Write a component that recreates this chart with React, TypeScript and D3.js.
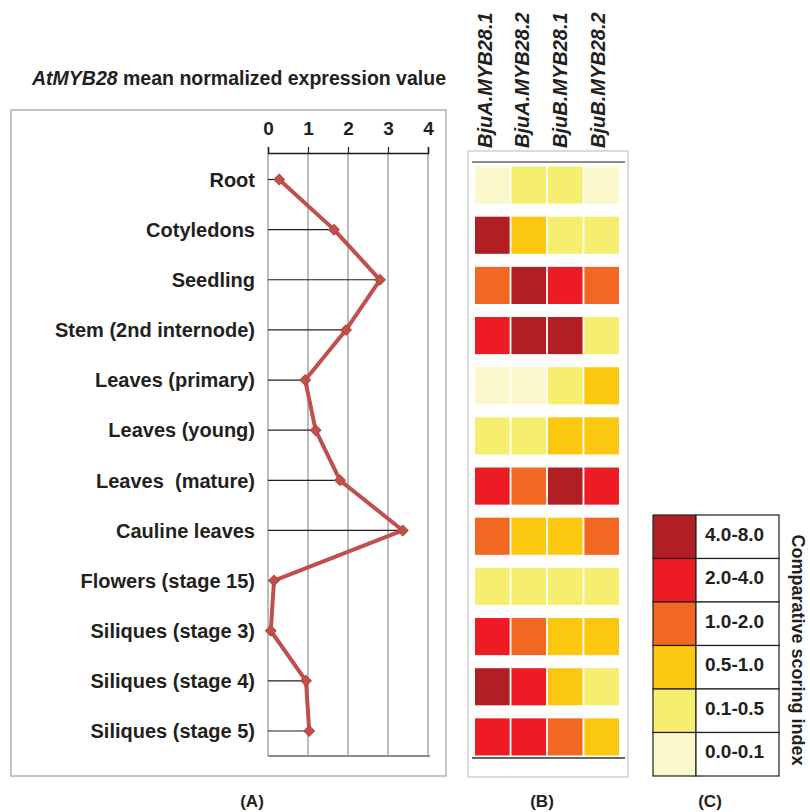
import React, { useRef, useEffect } from "react";
import * as d3 from "d3";

// tissues (panel A rows / panel B rows)
const tissues = [
  "Root",
  "Cotyledons",
  "Seedling",
  "Stem (2nd internode)",
  "Leaves (primary)",
  "Leaves (young)",
  "Leaves  (mature)",
  "Cauline leaves",
  "Flowers (stage 15)",
  "Siliques (stage 3)",
  "Siliques (stage 4)",
  "Siliques (stage 5)",
];

// AtMYB28 mean normalized expression
const atmyb28 = [0.28, 1.65, 2.8, 1.95, 0.93, 1.19, 1.8, 3.37, 0.15, 0.07, 0.95, 1.03];
const xTicks = [0, 1, 2, 3, 4];

const genes = ["BjuA.MYB28.1", "BjuA.MYB28.2", "BjuB.MYB28.1", "BjuB.MYB28.2"];

// legend classes, high to low
const classes = ["4.0-8.0", "2.0-4.0", "1.0-2.0", "0.5-1.0", "0.1-0.5", "0.0-0.1"];
const classColors = ["#b11f24", "#ed1c24", "#f26722", "#fcc80f", "#f6ee6e", "#fbf8cb"];

// comparative scoring class per gene, one entry per tissue
const bjuA1 = ["0.0-0.1", "4.0-8.0", "1.0-2.0", "2.0-4.0", "0.0-0.1", "0.1-0.5", "2.0-4.0", "1.0-2.0", "0.1-0.5", "2.0-4.0", "4.0-8.0", "2.0-4.0"];
const bjuA2 = ["0.1-0.5", "0.5-1.0", "4.0-8.0", "4.0-8.0", "0.0-0.1", "0.1-0.5", "1.0-2.0", "0.5-1.0", "0.1-0.5", "1.0-2.0", "2.0-4.0", "2.0-4.0"];
const bjuB1 = ["0.1-0.5", "0.1-0.5", "2.0-4.0", "4.0-8.0", "0.1-0.5", "0.5-1.0", "4.0-8.0", "0.5-1.0", "0.1-0.5", "0.5-1.0", "0.5-1.0", "1.0-2.0"];
const bjuB2 = ["0.0-0.1", "0.1-0.5", "1.0-2.0", "0.1-0.5", "0.5-1.0", "0.5-1.0", "2.0-4.0", "1.0-2.0", "0.1-0.5", "0.5-1.0", "0.1-0.5", "0.5-1.0"];
const geneScores = [bjuA1, bjuA2, bjuB1, bjuB2];

const FONT = "'Liberation Sans', Arial, sans-serif";
const INK = "#231f20";

export default function App() {
  const svgRef = useRef<SVGSVGElement>(null);

  useEffect(() => {
    const svg = d3.select(svgRef.current);
    svg.selectAll("*").remove();
    svg.attr("font-family", FONT).attr("font-weight", "bold");

    // ---------- panel A ----------
    const x = d3.scaleLinear().domain([0, 4]).range([268, 428]);
    const y = d3.scalePoint<string>().domain(tissues).range([179.5, 731]);

    const title = svg.append("text").attr("x", 239).attr("y", 85).attr("text-anchor", "middle").attr("font-size", 19.5).attr("fill", INK);
    title.append("tspan").attr("font-style", "italic").text("AtMYB28");
    title.append("tspan").text(" mean normalized expression value");

    svg.append("rect").attr("x", 11).attr("y", 110).attr("width", 435).attr("height", 666)
      .attr("fill", "white").attr("stroke", "#b3b3b3").attr("stroke-width", 1.5);

    const g = svg.append("g");
    g.selectAll(".grid").data(xTicks).enter().append("line")
      .attr("x1", (d) => x(d)).attr("x2", (d) => x(d))
      .attr("y1", 153).attr("y2", 756)
      .attr("stroke", "#a6a6a6").attr("stroke-width", 1.5);

    g.append("line").attr("x1", x(0)).attr("x2", x(4) + 2).attr("y1", 756).attr("y2", 756)
      .attr("stroke", "#8c8c8c").attr("stroke-width", 2);

    const axis = g.append("g").attr("transform", "translate(0,153)")
      .call(d3.axisTop(x).tickValues(xTicks).tickSize(6).tickFormat(d3.format("d")));
    axis.select(".domain").attr("stroke", INK).attr("stroke-width", 1.5);
    axis.selectAll(".tick line").attr("stroke", INK).attr("stroke-width", 1.2);
    axis.selectAll(".tick text").attr("font-size", 19).attr("font-family", FONT).attr("font-weight", "bold")
      .attr("fill", INK).attr("dy", -9);

    // leader lines
    g.selectAll(".lead").data(tissues).enter().append("line")
      .attr("x1", x(0)).attr("x2", (d, i) => x(atmyb28[i]))
      .attr("y1", (d) => y(d)!).attr("y2", (d) => y(d)!)
      .attr("stroke", INK).attr("stroke-width", 1.2);

    const line = d3.line<number>().x((d) => x(d)).y((d, i) => y(tissues[i])!);
    g.append("path").datum(atmyb28).attr("d", line).attr("fill", "none")
      .attr("stroke", "#c0504d").attr("stroke-width", 4).attr("stroke-linejoin", "round");

    g.selectAll(".pt").data(atmyb28).enter().append("path")
      .attr("d", d3.symbol(d3.symbolSquare, 56))
      .attr("transform", (d, i) => `translate(${x(d)},${y(tissues[i])}) rotate(45)`)
      .attr("fill", "#c0504d").attr("stroke", "#b8433f").attr("stroke-width", 1);

    g.selectAll(".lab").data(tissues).enter().append("text")
      .attr("x", 255).attr("y", (d) => y(d)!).attr("dy", "0.36em")
      .attr("text-anchor", "end").attr("font-size", 20).attr("fill", INK)
      .style("white-space", "pre").text((d) => d);

    svg.append("text").attr("x", 252).attr("y", 807).attr("text-anchor", "middle")
      .attr("font-size", 17).attr("fill", INK).text("(A)");

    // ---------- panel B ----------
    const col = d3.scaleBand<string>().domain(genes).range([475, 619]).paddingInner(0.05);
    const row = d3.scaleBand<string>().domain(tissues).range([160, 762]).paddingInner(0.26).paddingOuter(0.13);
    const color = d3.scaleOrdinal<string, string>().domain(classes).range(classColors);

    svg.append("rect").attr("x", 468).attr("y", 151).attr("width", 160).attr("height", 626)
      .attr("fill", "white").attr("stroke", "#d0d0d0").attr("stroke-width", 1.5);
    svg.append("line").attr("x1", 472).attr("x2", 625).attr("y1", 162).attr("y2", 162)
      .attr("stroke", "#666").attr("stroke-width", 1.5);
    svg.append("line").attr("x1", 472).attr("x2", 625).attr("y1", 758).attr("y2", 758)
      .attr("stroke", "#666").attr("stroke-width", 2);

    genes.forEach((gene, gi) => {
      svg.append("g").selectAll("rect").data(geneScores[gi]).enter().append("rect")
        .attr("x", col(gene)!).attr("y", (d, i) => row(tissues[i])!)
        .attr("width", col.bandwidth()).attr("height", row.bandwidth())
        .attr("fill", (d) => color(d));
      svg.append("text")
        .attr("transform", `translate(${col(gene)! + col.bandwidth() / 2 + gi * 1.2 - 0.5},148) rotate(-90)`)
        .attr("font-size", 20).attr("font-style", "italic").attr("fill", INK)
        .text(gene);
    });

    svg.append("text").attr("x", 542).attr("y", 807).attr("text-anchor", "middle")
      .attr("font-size", 17).attr("fill", INK).text("(B)");

    // ---------- panel C (legend) ----------
    const ly = d3.scaleBand<string>().domain(classes).range([515, 776]);
    const lg = svg.append("g");
    lg.selectAll("rect.sw").data(classes).enter().append("rect")
      .attr("x", 653).attr("y", (d) => ly(d)!).attr("width", 43).attr("height", ly.bandwidth())
      .attr("fill", (d) => color(d)).attr("stroke", INK).attr("stroke-width", 1.2);
    lg.selectAll("rect.bx").data(classes).enter().append("rect")
      .attr("x", 696).attr("y", (d) => ly(d)!).attr("width", 83).attr("height", ly.bandwidth())
      .attr("fill", "white").attr("stroke", INK).attr("stroke-width", 1.2);
    lg.selectAll("text").data(classes).enter().append("text")
      .attr("x", 705).attr("y", (d) => ly(d)! + ly.bandwidth() / 2 - 3).attr("dy", "0.36em")
      .attr("font-size", 19).attr("fill", INK).text((d) => d);

    svg.append("text").attr("transform", "translate(792,650) rotate(90)")
      .attr("text-anchor", "middle").attr("font-size", 18).attr("fill", INK)
      .text("Comparative scoring index");

    svg.append("text").attr("x", 710).attr("y", 807).attr("text-anchor", "middle")
      .attr("font-size", 17).attr("fill", INK).text("(C)");
  }, []);

  return (
    <svg ref={svgRef} width={810} height={812} style={{ position: "absolute", left: 0, top: 0, display: "block" }}></svg>
  );
}
